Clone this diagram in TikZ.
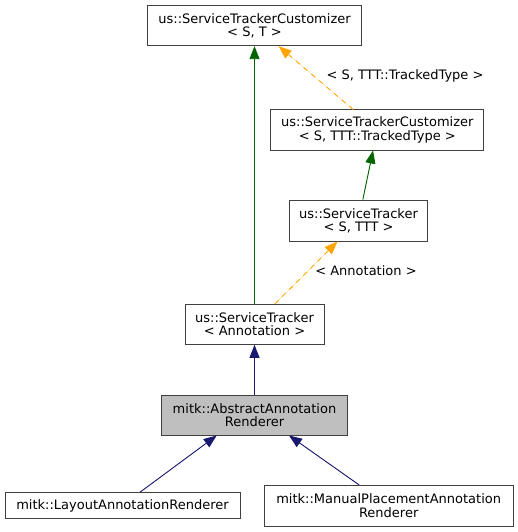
\documentclass[tikz,border=0pt]{standalone}
\usepackage{fontspec}
\setmainfont{DejaVu Sans}
\usetikzlibrary{arrows.meta}
\definecolor{edgegray}{HTML}{404040}
\definecolor{nodegray}{HTML}{BFBFBF}
\definecolor{inherit}{HTML}{191970}
\definecolor{tmpl}{HTML}{FFA500}
\definecolor{ext}{HTML}{006400}
\tikzset{
  classbox/.style={draw=edgegray,fill=white,line width=1pt,align=center,inner sep=0pt,
    font=\fontsize{13}{13.3}\selectfont},
  currentbox/.style={classbox,fill=nodegray},
  baseedge/.style={-{Triangle[length=13pt,width=10pt]},line width=0.9pt},
  pubarrow/.style={baseedge,draw=inherit,fill=inherit},
  extarrow/.style={baseedge,draw=ext,fill=ext},
  tmplarrow/.style={baseedge,draw=tmpl,fill=tmpl,dash pattern=on 5pt off 5pt},
  tmpllabel/.style={font=\fontsize{13}{13.3}\selectfont,inner sep=0pt}
}
\begin{document}
\begin{tikzpicture}[x=1pt,y=-1pt]
  \useasboundingbox (0,0) rectangle (517,532);
  % classes
  \node[classbox,minimum width=213.5pt,minimum height=40pt] (stcST) at (254.5,25.7)
    {us::ServiceTrackerCustomizer\\< S, T >};
  \node[classbox,minimum width=213.3pt,minimum height=40pt] (stcTT) at (377.3,130)
    {us::ServiceTrackerCustomizer\\< S, TTT::TrackedType >};
  \node[classbox,minimum width=138.4pt,minimum height=41pt] (stTTT) at (358.5,220.5)
    {us::ServiceTracker\\< S, TTT >};
  \node[classbox,minimum width=139pt,minimum height=40pt] (stAnno) at (254.5,324.3)
    {us::ServiceTracker\\< Annotation >};
  \node[currentbox,minimum width=185.6pt,minimum height=40pt] (aar) at (254.5,415)
    {mitk::AbstractAnnotation\\Renderer};
  \node[classbox,minimum width=235pt,minimum height=26pt] (layout) at (122.5,505.7)
    {mitk::LayoutAnnotationRenderer};
  \node[classbox,minimum width=249.3pt,minimum height=40.7pt] (manual) at (388.7,505.7)
    {mitk::ManualPlacementAnnotation\\Renderer};
  % edges
  \draw[extarrow] (stAnno) -- (stcST);
  \draw[tmplarrow] (stcTT) -- (stcST);
  \draw[extarrow] (stTTT) -- (stcTT);
  \draw[tmplarrow] (stAnno) -- (stTTT);
  \draw[pubarrow] (aar) -- (stAnno);
  \draw[pubarrow] ([xshift=17.5pt]layout.north) -- ([xshift=-37.8pt]aar.south);
  \draw[pubarrow] ([xshift=-29.7pt]manual.north) -- ([xshift=34.5pt]aar.south);
  % template labels
  \node[tmpllabel] (lblTT) at (405,76) {< S, TTT::TrackedType >};
  \node[tmpllabel] (lblAnno) at (366,271) {< Annotation >};
\end{tikzpicture}
\end{document}
